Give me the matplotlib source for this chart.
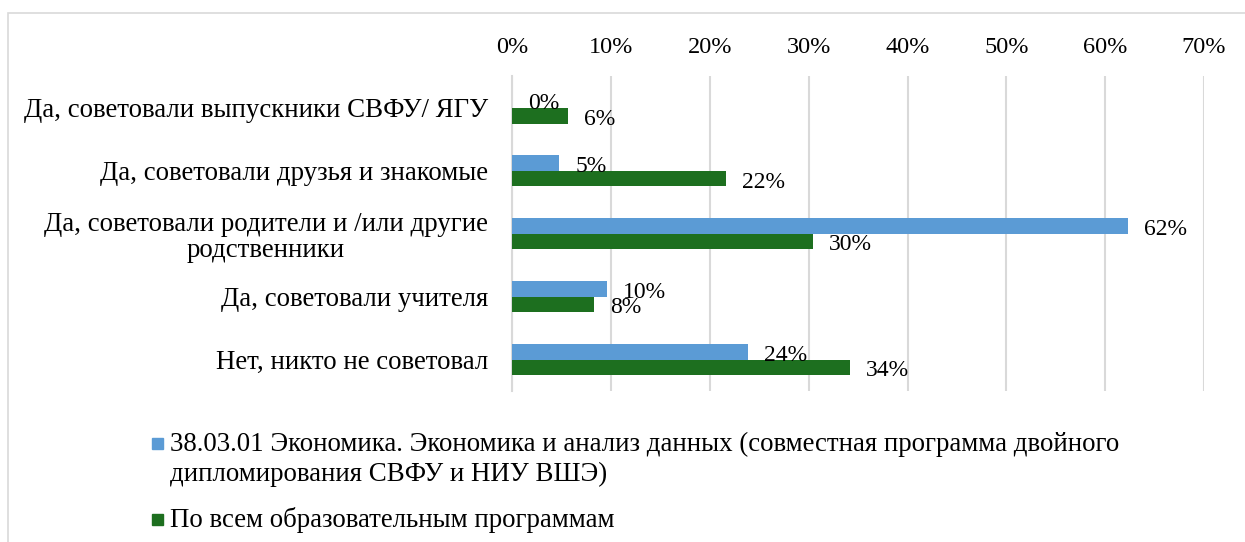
import numpy as np
import matplotlib
matplotlib.use("Agg")
import matplotlib.pyplot as plt
from matplotlib.patches import Rectangle
from matplotlib.ticker import PercentFormatter

plt.rcParams['font.family'] = ['Liberation Serif', 'DejaVu Serif']

categories = [
    "Да, советовали выпускники СВФУ/ ЯГУ",
    "Да, советовали друзья и знакомые",
    "Да, советовали родители и /или другие\nродственники",
    "Да, советовали учителя",
    "Нет, никто не советовал",
]
econ_values = [0.0, 4.75, 62.3, 9.6, 23.9]
all_values = [5.65, 21.6, 30.4, 8.3, 34.2]
series_names = [
    "38.03.01 Экономика. Экономика и анализ данных (совместная программа двойного\nдипломирования СВФУ и НИУ ВШЭ)",
    "По всем образовательным программам",
]
xticks = [0, 10, 20, 30, 40, 50, 60, 70]

blue = "#5B9BD5"
green = "#1D6F1F"
grid_c = "#D9D9D9"

fig = plt.figure(figsize=(12.45, 5.42), dpi=100)
W, H = 1245, 542

# chart-area border
fig.patches.append(Rectangle((8 / W, -0.1), 1.2, 1 - 13 / H + 0.1, transform=fig.transFigure,
                             fill=False, edgecolor=grid_c, linewidth=1.2))

ax = fig.add_axes([512.3 / W, 1 - 391 / H, (1204 - 512.3) / W, (391 - 76.3) / H])

y = np.arange(len(categories))
h = 0.25
ax.barh(y - h / 2, econ_values, height=h, color=blue, zorder=3)
ax.barh(y + h / 2, all_values, height=h, color=green, zorder=3)

for i in range(len(categories)):
    ax.annotate(f"{round(econ_values[i])}%", (econ_values[i], y[i] - h / 2),
                xytext=(11.5, -2.5), textcoords="offset points",
                ha="left", va="center", fontsize=17)
    ax.annotate(f"{round(all_values[i])}%", (all_values[i], y[i] + h / 2),
                xytext=(11.5, -2.5), textcoords="offset points",
                ha="left", va="center", fontsize=17)

ax.set_xlim(0, 70)
ax.set_ylim(len(categories) - 0.5, -0.5)
ax.set_xticks(xticks)
ax.xaxis.set_major_formatter(PercentFormatter(decimals=0))
ax.xaxis.tick_top()
ax.tick_params(axis="x", length=0, pad=13, labelsize=17.5)
ax.tick_params(axis="y", length=0, pad=17.5, labelsize=19.4)
ax.set_yticks(y)
ax.set_yticklabels(categories)
for t in ax.get_yticklabels():
    t.set_multialignment("center")
    t.set_linespacing(1.05)

ax.grid(axis="x", color=grid_c, linewidth=1.5, zorder=0)
for s in ["top", "right", "bottom"]:
    ax.spines[s].set_visible(False)
ax.spines["left"].set_color(grid_c)
ax.spines["left"].set_linewidth(1.5)

# legend (drawn by hand so the marker sits on the first line)
first_baseline = [451, 527]
line_step = 30
squares_bottom = [449, 525]
colors = [blue, green]
for k in range(2):
    fig.patches.append(Rectangle((152 / W, 1 - squares_bottom[k] / H), 11 / W, 11 / H,
                                 transform=fig.transFigure, color=colors[k]))
    for j, line in enumerate(series_names[k].split("\n")):
        fig.text(170 / W, 1 - (first_baseline[k] + j * line_step) / H, line,
                 fontsize=19.4, ha="left", va="baseline")

fig.savefig("out.png", dpi=100)
